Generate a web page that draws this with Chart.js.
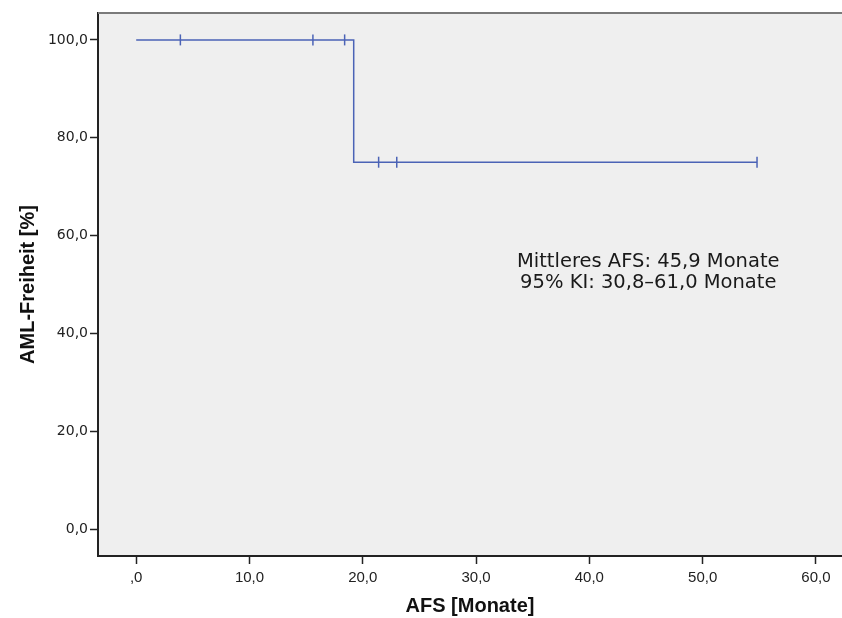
<!DOCTYPE html>
<html>
<head>
<meta charset="utf-8">
<script src="https://cdn.jsdelivr.net/npm/chart.js@4.4.0/dist/chart.umd.min.js"></script>
<style>
    html, body { margin: 0; padding: 0; background: #fff; overflow: hidden; }
    canvas { display: block; }
</style>
</head>
<body>
<canvas id="kmChart" width="842" height="618"></canvas>
<script>
// Kaplan-Meier Kurve (AML-Freiheit)
const stepTimes = [0, 19.2, 19.2, 54.8];
const stepSurvival = [100, 100, 75, 75];

// zensierte Fälle
const censorTimes = [3.9, 15.6, 18.4, 21.4, 23.0, 54.8];
const censorSurvival = [100, 100, 100, 75, 75, 75];

// Achsenbeschriftungen
const xTickValues = [0, 10, 20, 30, 40, 50, 60];
const xTickLabels = [',0', '10,0', '20,0', '30,0', '40,0', '50,0', '60,0'];
const yTickValues = [0, 20, 40, 60, 80, 100];
const yTickLabels = ['0,0', '20,0', '40,0', '60,0', '80,0', '100,0'];

const annotationLines = ['Mittleres AFS: 45,9 Monate', '95% KI: 30,8\u201361,0 Monate'];

const lineColor = '#4b63b6';

// Hintergrund, Rahmen und Textfeld
const frameAndText = {
    id: 'frameAndText',
    beforeDraw: function(chart) {
        const a = chart.chartArea;
        const ctx = chart.ctx;
        ctx.save();
        ctx.fillStyle = '#efefef';
        ctx.fillRect(a.left, a.top, a.right - a.left, a.bottom - a.top);
        ctx.restore();
    },
    afterDraw: function(chart) {
        const a = chart.chartArea;
        const ctx = chart.ctx;
        ctx.save();
        ctx.strokeStyle = '#7a7a7a';
        ctx.lineWidth = 2;
        ctx.beginPath();
        ctx.moveTo(a.left, a.top);
        ctx.lineTo(a.right, a.top);
        ctx.stroke();

        const xs = chart.scales.x;
        const ys = chart.scales.y;
        ctx.fillStyle = '#1a1a1a';
        ctx.font = '19.5px "DejaVu Sans", sans-serif';
        ctx.textAlign = 'center';
        ctx.textBaseline = 'middle';
        const cx = xs.getPixelForValue(45.2);
        ctx.fillText(annotationLines[0], cx, ys.getPixelForValue(54.6));
        ctx.fillText(annotationLines[1], cx, ys.getPixelForValue(50.3));
        ctx.restore();
    }
};

const stepData = stepTimes.map((t, i) => ({ x: t, y: stepSurvival[i] }));
const censorData = censorTimes.map((t, i) => ({ x: t, y: censorSurvival[i] }));

new Chart(document.getElementById('kmChart'), {
    type: 'scatter',
    data: {
        datasets: [{
            label: 'AML-Freiheit',
            data: stepData,
            showLine: true,
            borderColor: lineColor,
            borderWidth: 1.5,
            pointRadius: 0,
            fill: false
        }, {
            label: 'zensiert',
            data: censorData,
            pointStyle: 'line',
            rotation: 90,
            pointRadius: 5.5,
            borderColor: lineColor,
            backgroundColor: lineColor,
            pointBorderWidth: 1.5,
            showLine: false
        }]
    },
    options: {
        responsive: false,
        animation: false,
        layout: { autoPadding: false, padding: { top: 13, right: 0, left: 0, bottom: 0 } },
        plugins: {
            legend: { display: false },
            tooltip: { enabled: false }
        },
        scales: {
            x: {
                type: 'linear',
                min: -3.37,
                max: 62.3,
                afterBuildTicks: function(scale) {
                    scale.ticks = xTickValues.map(v => ({ value: v }));
                },
                afterFit: function(scale) {
                    scale.height = 62;
                    scale.paddingLeft = 0;
                    scale.paddingRight = 0;
                },
                ticks: {
                    color: '#222',
                    font: { family: 'Liberation Sans', size: 15 },
                    padding: 5,
                    maxRotation: 0,
                    callback: function(value) {
                        const i = xTickValues.indexOf(value);
                        return i >= 0 ? xTickLabels[i] : '';
                    }
                },
                grid: {
                    drawOnChartArea: false,
                    drawTicks: true,
                    tickLength: 8,
                    tickColor: '#222',
                    tickWidth: 1.5
                },
                border: { color: '#222', width: 2 },
                title: {
                    display: true,
                    text: 'AFS [Monate]',
                    color: '#111',
                    font: { family: 'Liberation Sans', size: 20, weight: 'bold' },
                    padding: { top: 0, bottom: 0 }
                }
            },
            y: {
                type: 'linear',
                min: -5.5,
                max: 105.5,
                afterBuildTicks: function(scale) {
                    scale.ticks = yTickValues.map(v => ({ value: v }));
                },
                afterFit: function(scale) {
                    scale.width = 98;
                    scale.paddingTop = 0;
                    scale.paddingBottom = 0;
                },
                ticks: {
                    color: '#222',
                    font: { family: 'DejaVu Sans', size: 14 },
                    padding: 2,
                    callback: function(value) {
                        const i = yTickValues.indexOf(value);
                        return i >= 0 ? yTickLabels[i] : '';
                    }
                },
                grid: {
                    drawOnChartArea: false,
                    drawTicks: true,
                    tickLength: 8,
                    tickColor: '#222',
                    tickWidth: 1.5
                },
                border: { color: '#222', width: 2 },
                title: {
                    display: true,
                    text: 'AML-Freiheit [%]',
                    color: '#111',
                    font: { family: 'Liberation Sans', size: 20, weight: 'bold' },
                    padding: { top: 16, bottom: 0 }
                }
            }
        }
    },
    plugins: [frameAndText]
});
</script>
</body>
</html>
